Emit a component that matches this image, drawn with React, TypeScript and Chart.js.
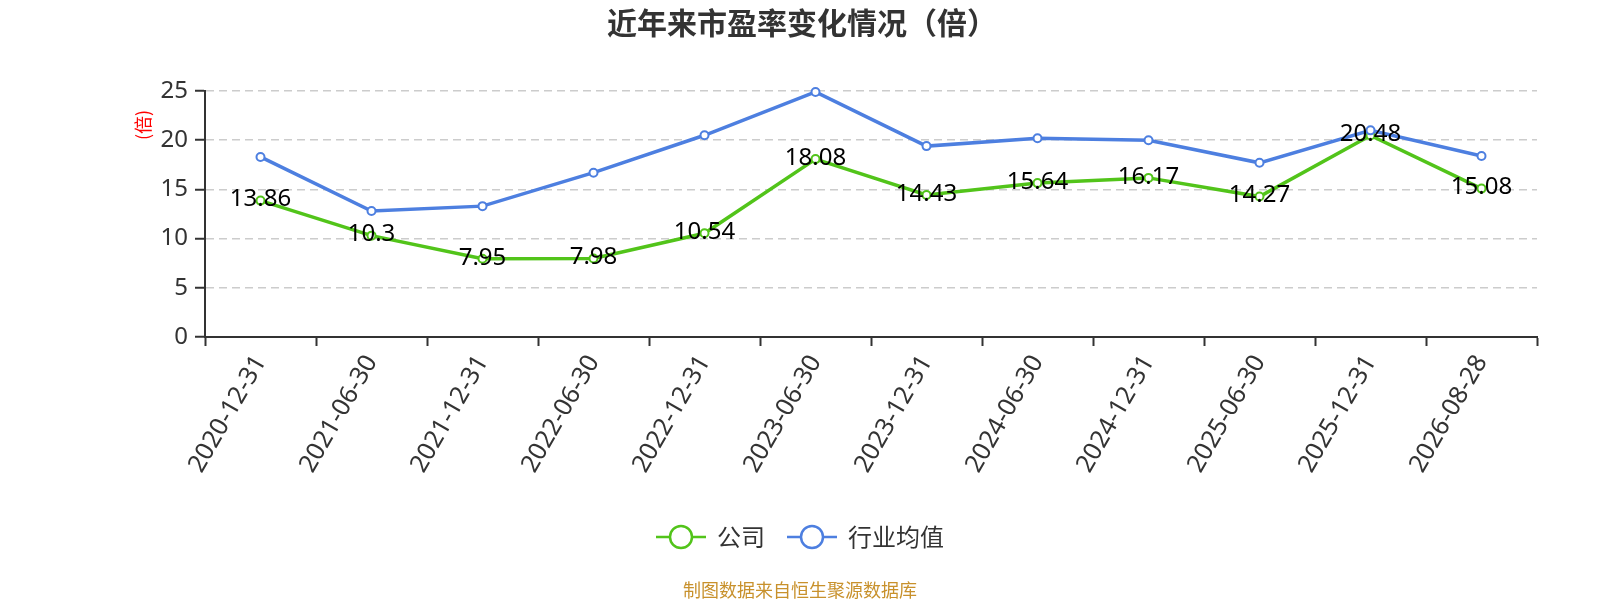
import React, { useEffect, useRef } from 'react';
import { Chart, registerables } from 'chart.js';

Chart.register(...registerables);

const categories = [
  '2020-12-31', '2021-06-30', '2021-12-31', '2022-06-30', '2022-12-31', '2023-06-30',
  '2023-12-31', '2024-06-30', '2024-12-31', '2025-06-30', '2025-12-31', '2026-08-28',
];
const companyPE = [13.86, 10.3, 7.95, 7.98, 10.54, 18.08, 14.43, 15.64, 16.17, 14.27, 20.48, 15.08];
const industryPE = [18.3, 12.8, 13.3, 16.7, 20.5, 24.9, 19.4, 20.2, 20.0, 17.7, 21.0, 18.4];
const seriesNames = ['公司', '行业均值'];
const seriesColors = ['#52c41a', '#4d7fe0'];

const FONT = '"Noto Sans", "Noto Sans CJK SC", sans-serif';
const CJK = '"Noto Sans CJK SC", "Noto Sans", sans-serif';

// title, y label, value labels, legend, footer
const decorPlugin = {
  id: 'decor',
  afterDatasetsDraw(chart: any) {
    const { ctx } = chart;
    const meta = chart.getDatasetMeta(0);
    ctx.save();
    ctx.font = `24px ${FONT}`;
    ctx.fillStyle = '#000';
    ctx.textAlign = 'center';
    ctx.textBaseline = 'middle';
    meta.data.forEach((pt: any, i: number) => {
      ctx.fillText(String(companyPE[i]), pt.x, pt.y - 1);
    });
    ctx.restore();
  },
  afterDraw(chart: any) {
    const { ctx } = chart;
    ctx.save();
    ctx.textBaseline = 'middle';
    ctx.textAlign = 'center';
    ctx.fillStyle = '#333';
    ctx.font = `bold 30px ${CJK}`;
    ctx.fillText('近年来市盈率变化情况（倍）', 802, 23);

    ctx.save();
    ctx.translate(143, 125);
    ctx.rotate(-Math.PI / 2);
    ctx.fillStyle = '#ff0000';
    ctx.font = `18px ${CJK}`;
    ctx.fillText('(倍)', 0, 0);
    ctx.restore();

    // legend
    ctx.font = `24px ${CJK}`;
    const widths = seriesNames.map((n) => ctx.measureText(n).width);
    const sym = 50, gapText = 11, gapItem = 22;
    const total = widths.reduce((a, w) => a + sym + gapText + w, 0) + gapItem * (seriesNames.length - 1);
    let x = 800 - total / 2;
    const y = 537;
    seriesNames.forEach((n, i) => {
      ctx.strokeStyle = seriesColors[i];
      ctx.lineWidth = 2.5;
      ctx.beginPath();
      ctx.moveTo(x, y);
      ctx.lineTo(x + sym, y);
      ctx.stroke();
      ctx.beginPath();
      ctx.arc(x + sym / 2, y, 11, 0, Math.PI * 2);
      ctx.fillStyle = '#fff';
      ctx.fill();
      ctx.stroke();
      ctx.fillStyle = '#333';
      ctx.textAlign = 'left';
      ctx.fillText(n, x + sym + gapText, y);
      x += sym + gapText + widths[i] + gapItem;
    });

    ctx.textAlign = 'center';
    ctx.fillStyle = '#c8912c';
    ctx.font = `18px ${CJK}`;
    ctx.fillText('制图数据来自恒生聚源数据库', 800, 590);
    ctx.restore();
  },
};

const App: React.FC = () => {
  const canvasRef = useRef<HTMLCanvasElement>(null);
  const chartRef = useRef<Chart | null>(null);

  useEffect(() => {
    if (!canvasRef.current) return;
    if (chartRef.current) chartRef.current.destroy();

    const lineStyle = (i: number) => ({
      borderColor: seriesColors[i],
      backgroundColor: '#fff',
      pointBorderColor: seriesColors[i],
      pointBackgroundColor: '#fff',
      borderWidth: 3.5,
      pointRadius: 4,
      pointBorderWidth: 2,
      tension: 0,
      clip: false as any,
    });

    chartRef.current = new Chart(canvasRef.current, {
      type: 'line',
      data: {
        labels: categories,
        datasets: [
          { label: seriesNames[0], data: companyPE, ...lineStyle(0), order: 2 },
          { label: seriesNames[1], data: industryPE, ...lineStyle(1), order: 1 },
        ],
      },
      options: {
        animation: false,
        responsive: false,
        layout: { padding: { left: 145, right: 63, top: 91, bottom: 103 } },
        plugins: {
          legend: { display: false },
          title: { display: false },
          tooltip: { enabled: false },
        },
        scales: {
          x: {
            offset: true,
            afterFit: (s: any) => { s.height = 160; },
            grid: {
              display: true,
              offset: true,
              drawOnChartArea: false,
              drawTicks: true,
              tickLength: 9,
              tickColor: '#333',
              tickWidth: 2,
            },
            border: { display: true, color: '#333', width: 2 },
            ticks: {
              autoSkip: false,
              maxRotation: 60,
              minRotation: 60,
              padding: 4,
              color: '#333',
              font: { size: 25, family: FONT },
            },
          },
          y: {
            min: 0,
            max: 25,
            afterFit: (s: any) => { s.width = 60; },
            grid: {
              color: '#cccccc',
              lineWidth: 1.5,
              drawTicks: true,
              tickLength: 10,
              tickColor: '#333',
              tickWidth: 2,
            },
            border: { display: true, color: '#333', width: 2, dash: [8, 5] },
            ticks: {
              stepSize: 5,
              padding: 7,
              color: '#333',
              font: { size: 24, family: FONT },
            },
          },
        },
      },
      plugins: [decorPlugin],
    });

    return () => {
      if (chartRef.current) {
        chartRef.current.destroy();
        chartRef.current = null;
      }
    };
  }, []);

  return (
    <div style={{ position: 'absolute', left: 0, top: 0, width: 1600, height: 600, background: '#fff' }}>
      <canvas ref={canvasRef} width={1600} height={600}></canvas>
    </div>
  );
};

export default App;
